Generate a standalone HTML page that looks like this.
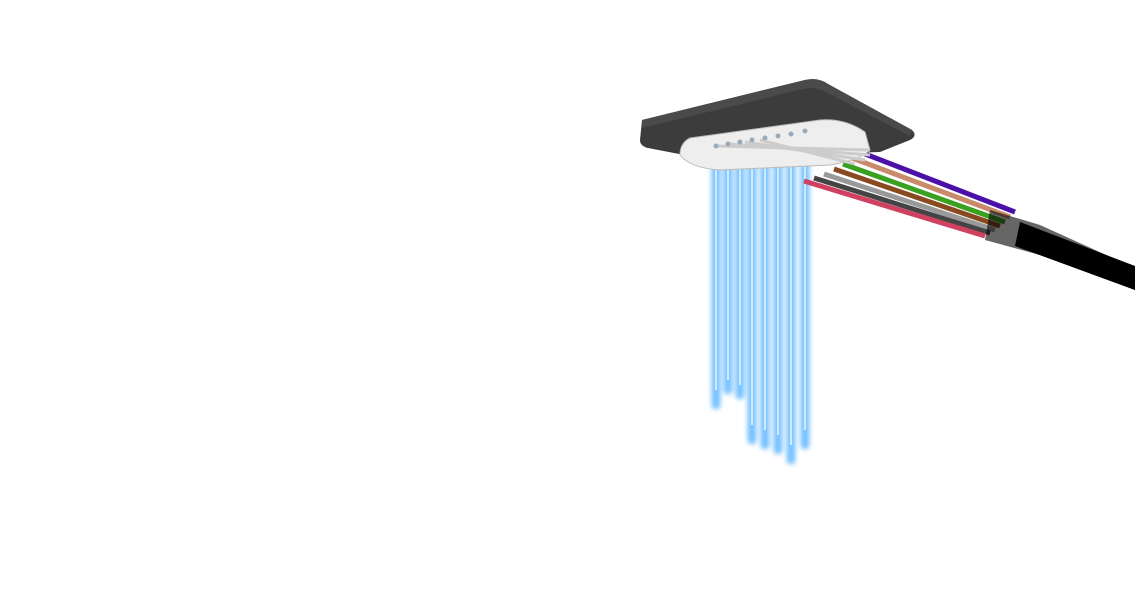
<!DOCTYPE html>
<html><head><style>html,body{margin:0;padding:0;background:#fff;width:1135px;height:600px;overflow:hidden}</style></head>
<body>
<svg width="1135" height="600" viewBox="0 0 1135 600" xmlns="http://www.w3.org/2000/svg">
<defs>
<filter id="b" x="-80%" y="-10%" width="260%" height="120%"><feGaussianBlur stdDeviation="2.5"/></filter>
</defs>
<!-- blue beams -->
<g stroke="#78c2ff" stroke-width="9" filter="url(#b)" stroke-linecap="round">
<line x1="716" y1="155" x2="716" y2="405"/>
<line x1="728" y1="155" x2="728" y2="390"/>
<line x1="740" y1="155" x2="740" y2="395"/>
<line x1="752" y1="155" x2="752" y2="440"/>
<line x1="765" y1="155" x2="765" y2="445"/>
<line x1="778" y1="155" x2="778" y2="450"/>
<line x1="791" y1="155" x2="791" y2="460"/>
<line x1="805" y1="155" x2="805" y2="445"/>
</g>
<g stroke="#eaf7ff" stroke-width="1.5">
<line x1="716" y1="150" x2="716" y2="390"/><line x1="728" y1="150" x2="728" y2="380"/>
<line x1="740" y1="150" x2="740" y2="385"/><line x1="752" y1="150" x2="752" y2="425"/>
<line x1="765" y1="150" x2="765" y2="430"/><line x1="778" y1="150" x2="778" y2="435"/>
<line x1="791" y1="150" x2="791" y2="445"/><line x1="805" y1="150" x2="805" y2="430"/>
</g>
<!-- cables -->
<g stroke-width="5" stroke-linecap="butt">
<line x1="860" y1="152" x2="1015" y2="212" stroke="#4a10a8"/>
<line x1="852" y1="158" x2="1010" y2="217" stroke="#c88a6a"/>
<line x1="843" y1="164" x2="1005" y2="222" stroke="#3aa020"/>
<line x1="834" y1="169" x2="1000" y2="226" stroke="#8a4a20"/>
<line x1="824" y1="174" x2="995" y2="230" stroke="#999"/>
<line x1="814" y1="178" x2="990" y2="233" stroke="#444"/>
<line x1="804" y1="181" x2="985" y2="236" stroke="#d04060"/>
</g>
<polygon points="990,210 1040,225 1135,268 1135,290 1040,255 985,240" fill="#000" opacity="0.6"/>
<polygon points="1020,222 1135,266 1135,290 1015,246" fill="#000"/>
<!-- plate -->
<path d="M642,120 L805,80 Q818,77 828,84 L912,130 Q918,136 910,140 L880,152 L700,158 L648,148 Q640,146 640,140 Z" fill="#3c3c3c"/>
<path d="M642,120 L805,80 Q818,77 828,84 L912,130 L910,136 L826,92 Q815,86 803,89 L642,128 Z" fill="#4a4a4a"/>
<!-- white insert -->
<path d="M690,138 L820,120 Q845,118 865,132 L870,150 Q860,160 830,165 L720,170 Q690,168 680,155 Q680,143 690,138 Z" fill="#eeeeee" stroke="#bbb" stroke-width="1"/>
<g stroke="#ccc" stroke-width="3">
<line x1="716" y1="146" x2="870" y2="150"/>
<line x1="730" y1="144" x2="870" y2="155"/>
<line x1="745" y1="142" x2="865" y2="160"/>
<line x1="760" y1="140" x2="855" y2="164"/>
</g>
<g fill="#9ab">
<circle cx="716" cy="146" r="2.5"/><circle cx="728" cy="144" r="2.5"/><circle cx="740" cy="142" r="2.5"/><circle cx="752" cy="140" r="2.5"/>
<circle cx="765" cy="138" r="2.5"/><circle cx="778" cy="136" r="2.5"/><circle cx="791" cy="134" r="2.5"/><circle cx="805" cy="131" r="2.5"/>
</g>
</svg>
</body></html>
